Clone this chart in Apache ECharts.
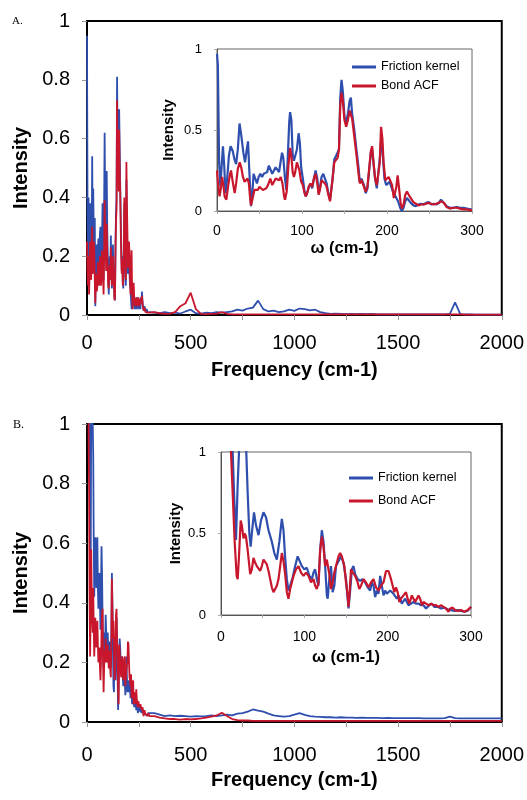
<!DOCTYPE html>
<html><head><meta charset="utf-8">
<script src="https://cdn.jsdelivr.net/npm/echarts@6/dist/echarts.min.js"></script>
<style>html,body{margin:0;padding:0;background:#fff}#c{width:527px;height:800px}</style>
</head><body><div id="c"></div>
<script>
// ---------- DATA ----------
// Main panels: low-frequency region (0-300 cm-1, step 2.5; one row per 20 cm-1)
var freqLow = [
  0,2.5,5,7.5,10,12.5,15,17.5,
  20,22.5,25,27.5,30,32.5,35,37.5,
  40,42.5,45,47.5,50,52.5,55,57.5,
  60,62.5,65,67.5,70,72.5,75,77.5,
  80,82.5,85,87.5,90,92.5,95,97.5,
  100,102.5,105,107.5,110,112.5,115,117.5,
  120,122.5,125,127.5,130,132.5,135,137.5,
  140,142.5,145,147.5,150,152.5,155,157.5,
  160,162.5,165,167.5,170,172.5,175,177.5,
  180,182.5,185,187.5,190,192.5,195,197.5,
  200,202.5,205,207.5,210,212.5,215,217.5,
  220,222.5,225,227.5,230,232.5,235,237.5,
  240,242.5,245,247.5,250,252.5,255,257.5,
  260,262.5,265,267.5,270,272.5,275,277.5,
  280,282.5,285,287.5,290,292.5,295,297.5,
  300];
var mainA_frictionLow = [
  0.95,0.35,0.22,0.4,0.12,0.3,0.38,0.18,
  0.3,0.22,0.54,0.25,0.43,0.28,0.2,0.33,
  0.03,0.15,0.24,0.12,0.14,0.22,0.26,0.15,
  0.22,0.28,0.3,0.18,0.14,0.25,0.38,0.2,
  0.12,0.35,0.62,0.4,0.3,0.2,0.49,0.3,
  0.21,0.12,0.07,0.15,0.2,0.12,0.27,0.16,
  0.09,0.18,0.24,0.15,0.12,0.06,0.05,0.25,
  0.35,0.4,0.81,0.6,0.55,0.45,0.7,0.58,
  0.45,0.35,0.25,0.15,0.2,0.12,0.09,0.2,
  0.38,0.25,0.15,0.1,0.46,0.3,0.2,0.14,
  0.17,0.2,0.14,0.1,0.09,0.05,0.02,0.04,
  0.07,0.03,0.05,0.03,0.02,0.05,0.04,0.02,
  0.03,0.06,0.05,0.02,0.03,0.05,0.04,0.02,
  0.06,0.04,0.08,0.05,0.03,0.015,0.02,0.03,
  0.025,0.01,0.015,0.02,0.02,0.01,0.01,0.012,
  0.01];
var mainA_bondLow = [
  0.25,0.15,0.1,0.2,0.07,0.14,0.25,0.13,
  0.12,0.2,0.3,0.14,0.18,0.25,0.22,0.12,
  0.04,0.12,0.14,0.08,0.1,0.18,0.16,0.1,
  0.12,0.2,0.2,0.1,0.13,0.22,0.21,0.12,
  0.07,0.2,0.39,0.25,0.22,0.15,0.31,0.2,
  0.16,0.1,0.09,0.14,0.17,0.12,0.23,0.15,
  0.1,0.16,0.2,0.13,0.1,0.05,0.06,0.22,
  0.32,0.36,0.73,0.55,0.52,0.42,0.63,0.5,
  0.42,0.3,0.2,0.14,0.19,0.1,0.12,0.22,
  0.4,0.26,0.16,0.12,0.52,0.38,0.28,0.16,
  0.2,0.25,0.21,0.12,0.07,0.15,0.22,0.08,
  0.02,0.08,0.11,0.06,0.06,0.03,0.04,0.06,
  0.04,0.03,0.045,0.06,0.05,0.03,0.04,0.055,
  0.05,0.04,0.065,0.04,0.025,0.02,0.015,0.025,
  0.02,0.01,0.015,0.012,0.01,0.008,0.01,0.006,
  0.005];
var mainB_frictionLow = [
  3,2.5,2,1.6,1.3,1.0,0.8,0.45,
  1.0,1.2,1.1,1.0,0.9,0.6,0.42,0.55,
  0.62,0.5,0.45,0.6,0.62,0.45,0.38,0.44,
  0.5,0.4,0.31,0.45,0.59,0.5,0.35,0.25,
  0.18,0.22,0.3,0.25,0.36,0.3,0.22,0.28,
  0.3,0.24,0.2,0.27,0.25,0.2,0.18,0.3,
  0.5,0.4,0.25,0.12,0.1,0.25,0.2,0.14,
  0.3,0.35,0.22,0.15,0.04,0.12,0.2,0.28,
  0.25,0.2,0.16,0.22,0.2,0.15,0.12,0.17,
  0.19,0.13,0.09,0.14,0.22,0.15,0.1,0.14,
  0.13,0.1,0.14,0.11,0.08,0.12,0.1,0.06,
  0.06,0.09,0.07,0.05,0.05,0.07,0.06,0.04,
  0.05,0.06,0.03,0.04,0.05,0.035,0.04,0.05,
  0.045,0.03,0.035,0.045,0.04,0.03,0.03,0.035,
  0.03,0.025,0.028,0.03,0.025,0.022,0.03,0.028,
  0.03];
var mainB_bondLow = [
  2,1.6,1.3,1.0,0.77,0.4,0.22,0.35,
  0.58,0.45,0.35,0.3,0.45,0.32,0.22,0.3,
  0.35,0.28,0.25,0.3,0.34,0.26,0.2,0.24,
  0.25,0.18,0.14,0.2,0.3,0.36,0.38,0.2,
  0.1,0.18,0.24,0.2,0.28,0.24,0.2,0.22,
  0.26,0.22,0.18,0.24,0.22,0.17,0.15,0.28,
  0.48,0.38,0.28,0.34,0.25,0.14,0.16,0.27,
  0.36,0.38,0.27,0.2,0.1,0.06,0.26,0.24,
  0.2,0.17,0.15,0.2,0.22,0.18,0.14,0.2,
  0.2,0.22,0.12,0.15,0.17,0.19,0.2,0.27,
  0.26,0.2,0.15,0.14,0.12,0.16,0.08,0.1,
  0.12,0.14,0.06,0.1,0.1,0.07,0.06,0.11,
  0.08,0.06,0.05,0.07,0.06,0.05,0.045,0.06,
  0.05,0.045,0.04,0.05,0.035,0.02,0.03,0.04,
  0.03,0.025,0.025,0.03,0.02,0.02,0.025,0.03,
  0.02];

// Main panels: high-frequency tail (325-2000 cm-1, step 25)
var freqTail = [325,350,375,400,425,450,475,500,525,550,575,600,625,650,675,700,725,750,775,800,825,850,875,900,925,950,975,1000,1025,1050,1075,1100,1125,1150,1175,1200,1225,1250,1275,1300,1325,1350,1375,1400,1425,1450,1475,1500,1525,1550,1575,1600,1625,1650,1675,1700,1725,1750,1775,1800,1825,1850,1875,1900,1925,1950,1975,2000];
var mainA_frictionTail = [0.008,0.006,0.01,0.006,0.008,0.005,0.012,0.018,0.006,0.005,0.008,0.006,0.01,0.008,0.01,0.012,0.018,0.015,0.022,0.025,0.049,0.02,0.012,0.015,0.01,0.012,0.018,0.014,0.022,0.02,0.016,0.018,0.01,0.006,0.004,0.005,0.004,0.003,0.004,0.003,0.004,0.003,0.004,0.002,0.002,0.002,0.002,0.002,0.002,0.002,0.002,0.002,0.002,0.002,0.002,0.002,0.002,0.004,0.043,0.003,0.002,0.002,0.001,0.001,0.001,0.001,0.001,0.001];
var mainA_bondTail = [0.01,0.006,0.004,0.005,0.01,0.03,0.04,0.076,0.02,0.004,0.003,0.004,0.005,0.01,0.004,0.002,0.002,0.002,0.002,0.002,0.002,0.002,0.002,0.002,0.002,0.002,0.002,0.002,0.002,0.002,0.002,0.002,0.002,0.002,0.002,0.002,0.002,0.002,0.002,0.002,0.002,0.002,0.002,0.002,0.002,0.002,0.002,0.002,0.002,0.002,0.002,0.002,0.002,0.002,0.002,0.002,0.002,0.002,0.002,0.002,0.001,0.001,0.001,0.001,0.001,0.001,0.001,0.001];
var mainB_frictionTail = [0.03,0.025,0.02,0.022,0.02,0.021,0.02,0.018,0.02,0.019,0.02,0.022,0.02,0.022,0.025,0.022,0.028,0.03,0.035,0.042,0.038,0.035,0.028,0.022,0.02,0.018,0.02,0.025,0.03,0.024,0.02,0.018,0.017,0.016,0.016,0.015,0.016,0.015,0.015,0.014,0.015,0.014,0.014,0.014,0.013,0.014,0.013,0.013,0.013,0.013,0.013,0.013,0.012,0.012,0.012,0.012,0.013,0.018,0.013,0.012,0.012,0.012,0.012,0.012,0.012,0.012,0.012,0.012];
var mainB_bondTail = [0.02,0.015,0.012,0.01,0.01,0.008,0.01,0.009,0.01,0.012,0.015,0.018,0.022,0.031,0.02,0.01,0.006,0.005,0.005,0.004,0.004,0.004,0.004,0.004,0.004,0.004,0.004,0.004,0.004,0.004,0.004,0.004,0.004,0.004,0.004,0.004,0.004,0.004,0.004,0.004,0.004,0.004,0.004,0.004,0.004,0.004,0.004,0.004,0.004,0.004,0.004,0.004,0.004,0.004,0.004,0.004,0.004,0.004,0.004,0.004,0.004,0.004,0.004,0.004,0.004,0.004,0.004,0.004];

// Inset A (0-300 cm-1)
var insetA_frictionW = [0,1,2.5,4,5.5,7,8.5,10,12,14,16,18.5,20.5,22.5,24.5,26.5,28.5,31,33,35,36.5,38,40,41.5,43,45,47,49,51,53,55,57,59,61,62.7,65,67,69,71,73,75,76.5,78,80,81.6,83,85,86,87.5,89,90.5,92,94,96,97.5,99,101,103,104.5,106,108,110,112,114,116,118,119.6,121,123,125,127,129,131,133,134.5,136,138,140,142,143.5,145,146.5,148,150,152,154,156,157.5,159,161.5,164,166.5,168,170,171.8,173.5,175,177,179,181,182.5,184,186,188,190,192,193.5,195,197,199,201,203,205,207,209,211,213,215.5,217.5,219.5,221.5,223.5,225.5,228,231,234,237,240,243,246,249,252,255,258,261,263.5,265,267,270,274,278,282,286,290,294,298,300];
var insetA_friction = [0.97,0.9,0.3,0.15,0.28,0.4,0.28,0.11,0.2,0.34,0.4,0.37,0.32,0.29,0.38,0.54,0.47,0.36,0.3,0.38,0.43,0.25,0.03,0.1,0.23,0.2,0.17,0.21,0.23,0.21,0.23,0.22,0.24,0.28,0.29,0.23,0.22,0.27,0.28,0.24,0.31,0.36,0.33,0.2,0.13,0.3,0.55,0.61,0.56,0.35,0.31,0.3,0.38,0.48,0.42,0.27,0.2,0.12,0.09,0.11,0.15,0.17,0.14,0.2,0.25,0.2,0.11,0.14,0.21,0.23,0.2,0.17,0.11,0.07,0.08,0.2,0.32,0.34,0.34,0.38,0.7,0.81,0.74,0.58,0.55,0.6,0.68,0.7,0.6,0.5,0.38,0.27,0.18,0.2,0.21,0.15,0.11,0.14,0.25,0.36,0.38,0.3,0.2,0.14,0.13,0.35,0.47,0.35,0.2,0.16,0.17,0.18,0.15,0.12,0.1,0.09,0.06,0.02,0.0,0.02,0.06,0.08,0.07,0.05,0.035,0.03,0.04,0.045,0.04,0.05,0.055,0.04,0.045,0.04,0.05,0.07,0.075,0.05,0.03,0.02,0.02,0.025,0.02,0.02,0.015,0.01,0.01];
var insetA_bondW = [0,1.5,3,4.5,6,7.5,9,11,13,15,16.5,18.5,20.8,22.5,24.5,26.7,28.5,30.5,32.5,34.5,36,37.5,39,40,42,44,46,48,50,52,54,56,58,60,62.7,65,67,69,71,73,75,77,79,80,82,84,86,87.5,89,90.5,92,94,95.5,97,99,101,103,104.5,106,108,110,112,114,116,118,119.6,121,123,124.7,127,129,131,133,134.5,136,138,140,142,143.5,145,146.5,148,150,152,154,156,157.5,159,161.5,164,166.5,168,170,171.8,173.5,175,177,179,181,182.5,184,186,188,190,191.5,193,194.5,196,198,200,202,204,206,208,209.5,211,212.5,214,216,217.6,219.5,221.5,223.5,225.5,228,231,234,237,240,243,246,249,252,255,258,261,263.5,265,267,270,274,278,282,286,290,294,298,300];
var insetA_bond = [0.25,0.15,0.09,0.14,0.21,0.16,0.09,0.07,0.15,0.22,0.25,0.18,0.11,0.17,0.26,0.3,0.27,0.21,0.18,0.17,0.2,0.17,0.08,0.035,0.08,0.13,0.14,0.13,0.15,0.14,0.13,0.12,0.14,0.16,0.2,0.16,0.17,0.2,0.21,0.19,0.21,0.17,0.09,0.07,0.12,0.28,0.39,0.34,0.24,0.21,0.24,0.3,0.31,0.25,0.18,0.16,0.11,0.09,0.11,0.15,0.17,0.15,0.2,0.23,0.17,0.1,0.13,0.19,0.2,0.17,0.15,0.1,0.06,0.07,0.2,0.3,0.31,0.33,0.38,0.65,0.73,0.68,0.56,0.52,0.56,0.62,0.63,0.57,0.46,0.35,0.23,0.17,0.19,0.19,0.14,0.12,0.15,0.26,0.37,0.4,0.31,0.2,0.16,0.15,0.3,0.52,0.45,0.3,0.19,0.2,0.21,0.22,0.16,0.08,0.07,0.15,0.22,0.15,0.05,0.015,0.04,0.1,0.12,0.1,0.08,0.055,0.045,0.035,0.04,0.04,0.045,0.05,0.045,0.04,0.045,0.05,0.06,0.065,0.05,0.025,0.015,0.02,0.02,0.015,0.01,0.01,0.005,0.005];

// Inset B (0-300 cm-1)
var insetB_frictionW = [0,5,10,14,16,18,20,22,26,30,32,34,35.6,37,39.6,42,45,48,51,54,57,61,64,67,70,73,75,77,79,81,83,86,89,92,94,97,100,103,106,109,111,113,115,117,119,121,123,125,127,128,130,132,134,136,138,141,144,147,150,152,153,155,157,159,161,164,167,170,173,176,179,181,183,185,187,189,191,193,195,197,199,201,203,205,207,209,211,213,215,217,219,221,223,225,228,231,234,237,240,243,246,248,250,253,256,260,264,268,272,276,280,284,288,292,296,300];
var insetB_friction = [3,2.5,1.6,1.0,0.7,0.46,0.8,1.05,1.3,1.05,0.75,0.5,0.42,0.5,0.63,0.55,0.49,0.58,0.63,0.6,0.52,0.45,0.38,0.34,0.45,0.59,0.52,0.35,0.22,0.15,0.18,0.23,0.3,0.36,0.35,0.3,0.28,0.29,0.24,0.22,0.26,0.28,0.22,0.18,0.4,0.52,0.45,0.3,0.12,0.1,0.22,0.3,0.14,0.18,0.3,0.33,0.36,0.32,0.22,0.1,0.04,0.15,0.28,0.3,0.25,0.22,0.21,0.22,0.2,0.17,0.15,0.2,0.18,0.11,0.15,0.13,0.24,0.18,0.12,0.15,0.13,0.12,0.15,0.16,0.13,0.12,0.1,0.12,0.1,0.07,0.07,0.1,0.08,0.06,0.07,0.08,0.07,0.07,0.06,0.06,0.04,0.03,0.06,0.07,0.05,0.05,0.04,0.045,0.035,0.03,0.025,0.03,0.025,0.02,0.025,0.05];
var insetB_bondW = [0,5,10,12,14,16.4,18.8,20,21.5,23.6,25,27,28.5,30,32,35,37,39,41,43,45,47,49,51,53,55,57,59,61,63,65,67,69,71,73,75,77,79,81,83,85,87,90,93,96,99,102,105,108,111,113,115,117,119,121,123,125,127,128.5,130,132,134,136,138,141,143,145,148,150,152,153,154.5,156,158,161,164,166,168,171,174,177,180,183,186,189,192,195,198,201,204,206,208,210,212,214,216,219,222,224,226,229,231,233,235,237,239,241,243,246,249,252,255,258,261,264,267,270,273,275,278,281,284,288,292,296,300];
var insetB_bond = [3,2.2,1.3,1.0,0.75,0.45,0.24,0.22,0.35,0.58,0.55,0.47,0.5,0.48,0.4,0.25,0.28,0.35,0.32,0.3,0.29,0.27,0.3,0.34,0.35,0.31,0.27,0.22,0.17,0.14,0.15,0.18,0.22,0.3,0.38,0.33,0.25,0.14,0.1,0.16,0.2,0.24,0.28,0.3,0.26,0.24,0.26,0.24,0.2,0.22,0.18,0.16,0.2,0.4,0.48,0.42,0.3,0.34,0.35,0.25,0.16,0.2,0.26,0.3,0.36,0.38,0.36,0.3,0.2,0.12,0.05,0.15,0.28,0.26,0.24,0.2,0.16,0.18,0.22,0.2,0.17,0.2,0.22,0.17,0.15,0.18,0.2,0.27,0.27,0.22,0.18,0.14,0.17,0.14,0.08,0.1,0.12,0.14,0.1,0.07,0.12,0.12,0.08,0.1,0.12,0.1,0.06,0.08,0.07,0.06,0.07,0.06,0.06,0.05,0.06,0.05,0.04,0.02,0.04,0.045,0.03,0.025,0.03,0.02,0.03,0.05];

// Tick labels
var mainXTicks = [0,500,1000,1500,2000];
var insetXTicks = [0,100,200,300];
var seriesNames = ['Friction kernel','Bond ACF'];

// ---------- CHART ----------
var BLUE = '#2f4fae', RED = '#c8172c';
var FONT = '"Liberation Sans", Arial, Helvetica, sans-serif';
function pairs(xs, ys){ var out=[]; for (var i=0;i<xs.length;i++) out.push([xs[i], ys[i]]); return out; }

function mainX(gridIndex, labelMargin, nameGap){
  return {gridIndex:gridIndex, type:'value', min:0, max:2000, interval:250,
    axisLine:{show:true, lineStyle:{color:'#000', width:2}},
    axisTick:{show:true, length:5, inside:false, lineStyle:{color:'#999', width:1}},
    axisLabel:{fontSize:20, color:'#000', fontFamily:FONT, margin:labelMargin,
      formatter:function(v){ return mainXTicks.indexOf(v)>=0 ? String(v) : ''; }},
    splitLine:{show:false},
    name:'Frequency (cm-1)', nameLocation:'middle', nameGap:nameGap,
    nameTextStyle:{fontSize:20, fontWeight:'bold', color:'#000', fontFamily:FONT}};
}
function mainY(gridIndex){
  return {gridIndex:gridIndex, type:'value', min:0, max:1, interval:0.2,
    axisLine:{show:true, lineStyle:{color:'#000', width:2}},
    axisTick:{show:true, length:5, lineStyle:{color:'#999', width:1}},
    axisLabel:{fontSize:20, color:'#000', fontFamily:FONT, margin:17},
    splitLine:{show:false},
    name:'Intensity', nameLocation:'middle', nameGap:56,
    nameTextStyle:{fontSize:20, fontWeight:'bold', color:'#000', fontFamily:FONT}};
}
function insetX(gridIndex, labelMargin, nameGap){
  return {gridIndex:gridIndex, type:'value', min:0, max:300, interval:50, z:6,
    axisLine:{show:true, lineStyle:{color:'#555', width:1}},
    axisTick:{show:true, length:3, lineStyle:{color:'#aaa', width:1}},
    axisLabel:{fontSize:14, color:'#000', fontFamily:FONT, margin:labelMargin,
      formatter:function(v){ return insetXTicks.indexOf(v)>=0 ? String(v) : ''; }},
    splitLine:{show:false},
    name:'ω (cm-1)', nameLocation:'middle', nameGap:nameGap,
    nameTextStyle:{fontSize:16.5, fontWeight:'bold', color:'#000', fontFamily:FONT}};
}
function insetY(gridIndex, nameGap){
  return {gridIndex:gridIndex, type:'value', min:0, max:1, interval:0.5, z:6,
    axisLine:{show:true, lineStyle:{color:'#555', width:1}},
    axisTick:{show:true, length:3, lineStyle:{color:'#aaa', width:1}},
    axisLabel:{fontSize:13, color:'#000', fontFamily:FONT, margin:15},
    splitLine:{show:false},
    name:'Intensity', nameLocation:'middle', nameGap:nameGap,
    nameTextStyle:{fontSize:15, fontWeight:'bold', color:'#000', fontFamily:FONT}};
}
function line(name, idx, data, color, width, z){
  return {name:name, type:'line', xAxisIndex:idx, yAxisIndex:idx, data:data,
    showSymbol:false, symbol:'none', clip:true, z:z,
    lineStyle:{color:color, width:width}, itemStyle:{color:color}, emphasis:{disabled:true}};
}
function legendAt(left, top, gap){
  return {data:seriesNames, orient:'vertical', left:left, top:top, itemGap:gap, padding:0,
    itemWidth:24, itemHeight:3, icon:'rect', selectedMode:false, z:8,
    textStyle:{fontSize:12.5, color:'#000', fontFamily:FONT}};
}

var chart = echarts.init(document.getElementById('c'), null, {renderer:'canvas'});
chart.setOption({
  animation:false,
  backgroundColor:'#fff',
  grid:[
    {left:87, top:21, width:416, height:294, show:true, borderColor:'#000', borderWidth:2},
    {left:217, top:49, width:255, height:162, show:true, borderColor:'#666', borderWidth:1, backgroundColor:'#fff', z:5},
    {left:87, top:424, width:416, height:298, show:true, borderColor:'#000', borderWidth:2},
    {left:221, top:452, width:250, height:163, show:true, borderColor:'#666', borderWidth:1, backgroundColor:'#fff', z:5}
  ],
  xAxis:[ mainX(0, 18, 45), insetX(1, 13, 29), mainX(2, 23, 48), insetX(3, 15, 34) ],
  yAxis:[ mainY(0), insetY(1, 41), mainY(2), insetY(3, 38) ],
  legend:[ legendAt(352, 60.5, 6), legendAt(349, 471.5, 10) ],
  graphic:[
    {type:'text', left:12, top:16, style:{text:'A.', font:'11px "Liberation Serif", "Times New Roman", serif', fill:'#000'}},
    {type:'text', left:13, top:419, style:{text:'B.', font:'12px "Liberation Serif", "Times New Roman", serif', fill:'#000'}}
  ],
  series:[
    line('A friction', 0, pairs(freqLow.concat(freqTail), mainA_frictionLow.concat(mainA_frictionTail)), BLUE, 1.8, 2),
    line('A bond', 0, pairs(freqLow.concat(freqTail), mainA_bondLow.concat(mainA_bondTail)), RED, 1.8, 3),
    line('Friction kernel', 1, pairs(insetA_frictionW, insetA_friction), BLUE, 2.2, 7),
    line('Bond ACF', 1, pairs(insetA_bondW, insetA_bond), RED, 2.2, 8),
    line('B friction', 2, pairs(freqLow.concat(freqTail), mainB_frictionLow.concat(mainB_frictionTail)), BLUE, 1.8, 2),
    line('B bond', 2, pairs(freqLow.concat(freqTail), mainB_bondLow.concat(mainB_bondTail)), RED, 1.8, 3),
    line('Friction kernel', 3, pairs(insetB_frictionW, insetB_friction), BLUE, 2.2, 7),
    line('Bond ACF', 3, pairs(insetB_bondW, insetB_bond), RED, 2.2, 8)
  ]
});
</script>
</body></html>
